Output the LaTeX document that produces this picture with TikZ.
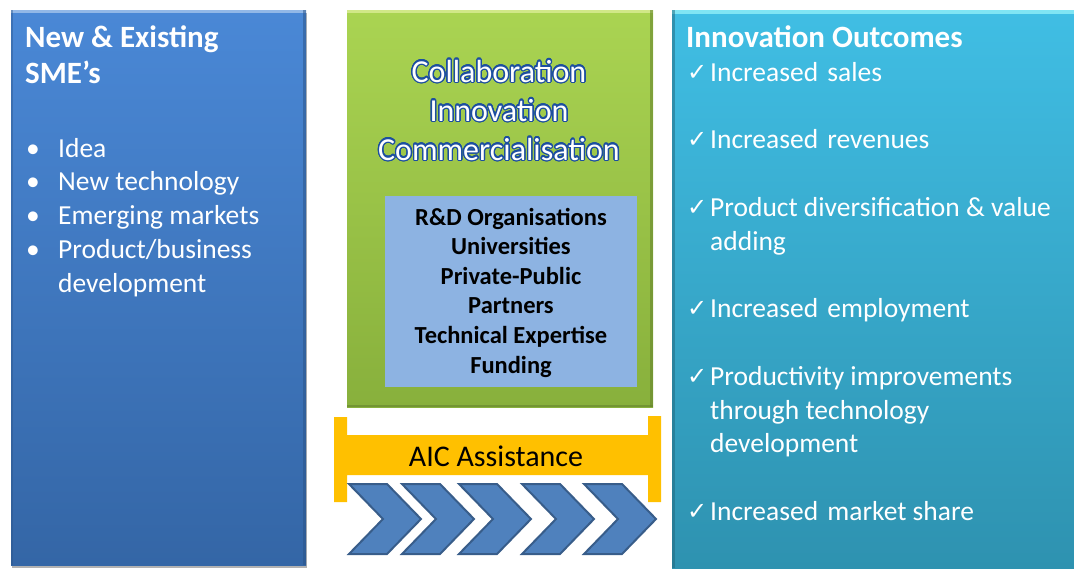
\documentclass[tikz,border=0pt]{standalone}
\usepackage{fontspec}
\setmainfont{Carlito}
\newfontfamily\symfont{DejaVu Sans}
\usepackage{contour}
\contourlength{1.3pt}
\contournumber{24}

\definecolor{smeTop}{RGB}{74,136,214}
\definecolor{smeBot}{RGB}{52,102,166}
\definecolor{grnTop}{RGB}{170,212,82}
\definecolor{grnBot}{RGB}{136,176,60}
\definecolor{cyTop}{RGB}{64,190,228}
\definecolor{cyBot}{RGB}{46,146,176}
\definecolor{partner}{RGB}{141,179,226}
\definecolor{aic}{RGB}{255,192,0}
\definecolor{chevFill}{RGB}{79,129,189}
\definecolor{chevLine}{RGB}{56,93,138}
\definecolor{outlineBlue}{RGB}{28,78,160}

\tikzset{
  panel/.style={anchor=north west, inner sep=0, draw=none},
  headtext/.style={anchor=base west, align=left, inner sep=0, text=white,
    font=\fontsize{31}{36}\selectfont\bfseries},
  listtext/.style={anchor=base west, inner sep=0, text=white,
    font=\fontsize{27.5}{33.8}\selectfont},
  glowtext/.style={anchor=base, inner sep=0, text=white,
    font=\fontsize{32}{39}\selectfont},
  chevron/.style={fill=chevFill, draw=chevLine, line width=2pt, line join=miter},
}

\newcommand{\tick}{{\symfont\fontsize{24}{24}\selectfont\raisebox{1pt}{✓}}}
\newcommand{\widegap}{\hspace{3pt}}

\begin{document}
\begin{tikzpicture}[x=1pt,y=-1pt]
\useasboundingbox (0,0) rectangle (1074,568);

% left panel: new and existing SMEs
\fill[gray!60] (12,13) rectangle (307,568);
\node[panel, minimum width=295pt, minimum height=555pt,
      top color=smeTop, bottom color=smeBot] (sme) at (11,10) {};
\fill[smeTop!60!white] (sme.north west) rectangle ([yshift=-3pt]sme.north east);
\fill[smeBot!80!black, opacity=0.5] ([xshift=-3pt]sme.north east) rectangle (sme.south east);
\fill[smeBot!80!black, opacity=0.4] (sme.north west) rectangle ([xshift=2pt]sme.south west);

% middle panel: collaboration
\node[panel, minimum width=306pt, minimum height=397pt,
      top color=grnTop, bottom color=grnBot] (collab) at (347,10) {};
\fill[grnTop!60!white!90!yellow] (collab.north west) rectangle ([yshift=-3pt]collab.north east);
\fill[grnBot!75!black, opacity=0.6] ([xshift=-3pt]collab.north east) rectangle (collab.south east);
\fill[grnBot!75!black, opacity=0.6] ([yshift=2pt]collab.south west) rectangle (collab.south east);

% right panel: outcomes
\node[panel, minimum width=402pt, minimum height=558pt,
      top color=cyTop, bottom color=cyBot] (outc) at (672,10) {};
\fill[cyTop!50!white!80!cyan] (outc.north west) rectangle ([yshift=-4pt]outc.north east);
\fill[cyBot!70!black, opacity=0.5] (outc.north west) rectangle ([xshift=3pt]outc.south west);

% partner box inside the middle panel
\node[panel, fill=partner, minimum width=252pt, minimum height=191pt] (partners) at (385,196) {};

% left panel text (multi-line nodes sit on the baseline of their last line)
\node[headtext] (smehead) at (25,83) {New \& Existing\\SME’s};
\node[listtext] (smelist) at (26,157) {%
  \begin{tabular}[t]{@{}p{32pt}@{}l@{}}
    • & Idea\\
    • & New technology\\
    • & Emerging markets\\
    • & Product/business\\
      & development
  \end{tabular}};

% middle panel text
\node[glowtext] (w1) at (499,82) {\contour{outlineBlue}{Collaboration}};
\node[glowtext] (w2) at (499,121) {\contour{outlineBlue}{Innovation}};
\node[glowtext] (w3) at (499,160) {\contour{outlineBlue}{Commercialisation}};

\node[anchor=base, align=center, inner sep=0,
      font=\fontsize{24.5}{29.6}\selectfont\bfseries] (plist) at (511,373)
  {R\&D Organisations\\Universities\\Private-Public\\Partners\\Technical Expertise\\Funding};

% AIC assistance bracket
\fill[aic] (334,417) -- (347,417) -- (347,435) -- (648,435) -- (648,416)
  -- (661,416) -- (661,502) -- (648,502) -- (648,475) -- (347,475)
  -- (347,502) -- (334,502) -- cycle;
\node[anchor=base, inner sep=0, font=\fontsize{30}{34}\selectfont] (aic) at (496,466) {AIC Assistance};

% chevron arrows
\foreach \l in {349,402,459,522,584}
  \draw[chevron] (\l,484) -- ++(38,0) -- ++(34,35) -- ++(-34,35) -- ++(-38,0)
    -- ++(34,-35) -- cycle;

% right panel text
\node[headtext] (outhead) at (686,47) {Innovation Outcomes};
\node[listtext] (outlist) at (687,81) {%
  \begin{tabular}[t]{@{}p{23pt}@{}l@{}}
    \tick & Increased\widegap{} sales\\
          & \\
    \tick & Increased\widegap{} revenues\\
          & \\
    \tick & Product diversification \& value\\
          & adding\\
          & \\
    \tick & Increased\widegap{} employment\\
          & \\
    \tick & Productivity improvements\\
          & through technology\\
          & development\\
          & \\
    \tick & Increased\widegap{} market share
  \end{tabular}};
\end{tikzpicture}
\end{document}
